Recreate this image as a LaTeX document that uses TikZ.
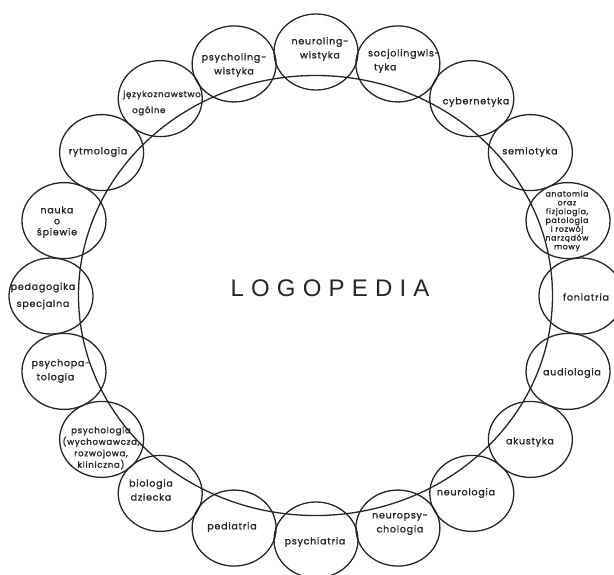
\documentclass[tikz,border=0pt]{standalone}
\usepackage{fontspec}
\setmainfont{Poppins}
\newfontfamily\titlefont[LetterSpace=30]{Liberation Sans}
\newfontfamily\lblfont[LetterSpace=8,FakeBold=1.5]{Poppins}
\usetikzlibrary{shapes.geometric}
\tikzset{
  ring/.style={draw=black!85, line width=1.3pt, ellipse, minimum width=84pt, minimum height=76pt, inner sep=0pt},
  bigring/.style={draw=black!85, line width=1.3pt},
  lbl/.style={font=\lblfont\fontsize{9.5}{14}\selectfont, align=center, text=black!85, inner sep=0pt},
}
\begin{document}
\begin{tikzpicture}[x=1pt,y=-1pt]
\useasboundingbox (0,0) rectangle (614,574);
% large ring
\draw[bigring] (315.5,295.5) ellipse [x radius=237, y radius=220];
% small rings
\foreach \a/\n in {90/c1,72/c2,54/c3,36/c4,18/c5,0/c6,-18/c7,-36/c8,-54/c9,-72/c10,
  -90/c11,-108/c12,-126/c13,-144/c14,-162/c15,180/c16,162/c17,144/c18,126/c19,108/c20}
  \node[ring] (\n) at ({316+265*cos(\a)},{296-244*sin(\a)}) {};
% labels
\node[lbl] (t) at (330,288) {\titlefont\fontsize{24}{24}\selectfont LOGOPEDIA};
\node[lbl] (l1) at (320,49) {neuroling-\\wistyka};
\node[lbl, align=left] (l2) at (404,61) {socjolingwis-\\\hspace{6pt}tyka};
\node[lbl] (l3) at (476,102) {cybernetyka};
\node[lbl] (l4) at (530,152) {semiotyka};
\node[lbl, font=\lblfont\fontsize{7.8}{8.8}\selectfont] (l5) at (567,221) {anatomia\\oraz\\fizjologia,\\patologia\\i rozwój\\narządów\\mowy};
\node[lbl] (l6) at (586,297) {foniatria};
\node[lbl] (l7) at (572,373) {audiologia};
\node[lbl] (l8) at (530,442) {akustyka};
\node[lbl] (l9) at (466,493) {neurologia};
\node[lbl] (l10) at (400,524) {neuropsy-\\chologia};
\node[lbl] (l11) at (315,542) {psychiatria};
\node[lbl] (l12) at (232,527) {pediatria};
\node[lbl] (l13) at (151,490) {biologia\\dziecka};
\node[lbl, font=\lblfont\fontsize{8.6}{11.5}\selectfont] (l14) at (101,448) {psychologia\\(wychowawcza,\\rozwojowa,\\kliniczna)};
\node[lbl, align=left] (l15) at (61,371) {psychopa-\\\hspace{5pt}tologia};
\node[lbl, font=\lblfont\fontsize{9.5}{17}\selectfont] (l16) at (43,296) {pedagogika\\specjalna};
\node[lbl, font=\lblfont\fontsize{9.5}{11}\selectfont] (l17) at (57,222) {nauka\\o\\śpiewie};
\node[lbl] (l18) at (98,152) {rytmologia};
\node[lbl, align=left, font=\lblfont\fontsize{8.6}{16}\selectfont] (l19) at (162,103) {językoznawstwo\\\hspace{9pt}ogólne};
\node[lbl] (l20) at (234,65) {psycholing-\\wistyka};
\end{tikzpicture}
\end{document}
